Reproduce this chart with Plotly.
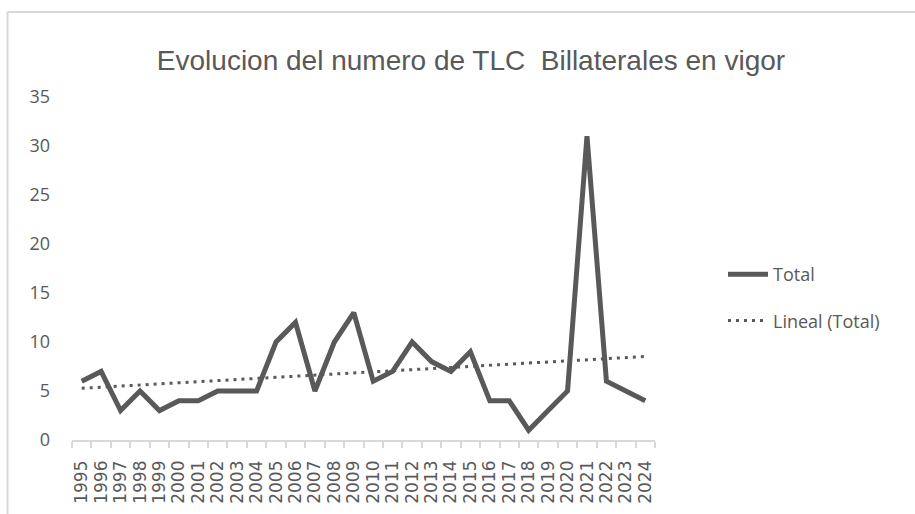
import numpy as np
import plotly.graph_objects as go

years = [str(y) for y in range(1995, 2025)]
totals = [6, 7, 3, 5, 3, 4, 4, 5, 5, 5,
          10, 12, 5, 10, 13, 6, 7, 10, 8, 7,
          9, 4, 4, 1, 3, 5, 31, 6, 5, 4]
y_ticks = [0, 5, 10, 15, 20, 25, 30, 35]

title_text = "Evolucion del numero de TLC  Billaterales en vigor"

# linear trend (Excel "Lineal" trendline)
idx = np.arange(1, len(totals) + 1)
slope, intercept = np.polyfit(idx, totals, 1)
trend = slope * idx + intercept

GREY = "#595959"
BORDER = "#d9d9d9"

W, H = 915, 514
L, R = 72, 655
T, B = 97, 440
pw, ph = R - L, B - T

def px_x(x):
    return (x - L) / pw

def px_y(y):
    return (B - y) / ph

fig = go.Figure()
fig.add_trace(go.Scatter(
    x=years, y=totals, mode="lines", name="Total",
    line=dict(color=GREY, width=5), legendgroup="a"))
fig.add_trace(go.Scatter(
    x=years, y=trend, mode="lines", name="Lineal (Total)",
    line=dict(color=GREY, width=3, dash="3px,5px"), legendgroup="b"))

fig.update_layout(
    width=W, height=H,
    margin=dict(l=L, r=W - R, t=T, b=H - B, pad=0, autoexpand=False),
    paper_bgcolor="white", plot_bgcolor="white",
    font=dict(family="Open Sans, sans-serif", color=GREY),
    title=dict(text=title_text, x=471 / W, xanchor="center",
               y=1 - 60 / H, yanchor="middle", xref="container", yref="container",
               font=dict(family="Liberation Sans Narrow, Arial Narrow, Liberation Sans, sans-serif",
                         size=28, color=GREY)),
    showlegend=True,
    legend=dict(x=px_x(723), xanchor="left", y=px_y(256), yanchor="top",
                font=dict(size=18, color=GREY), tracegroupgap=20,
                bgcolor="rgba(0,0,0,0)", itemwidth=40),
    xaxis=dict(type="category", range=[-0.5, len(years) - 0.5], automargin=False,
               tickmode="array", tickvals=years, ticktext=years,
               showline=True, linecolor=BORDER, linewidth=1.5,
               ticks="outside", tickson="boundaries", ticklen=6, tickcolor=BORDER,
               tickwidth=1.5, tickangle=-90, showgrid=False, ticklabelstandoff=12,
               tickfont=dict(family="DejaVu Sans, sans-serif", size=17, color=GREY)),
    yaxis=dict(range=[0, 35], tickvals=y_ticks, showgrid=False, zeroline=False,
               automargin=False,
               showline=False, ticks="", ticklabelstandoff=21,
               tickfont=dict(size=18, color=GREY)),
    shapes=[
        dict(type="line", xref="paper", yref="paper",
             x0=px_x(7.5), x1=px_x(7.5), y0=px_y(12), y1=px_y(H),
             line=dict(color=BORDER, width=2)),
        dict(type="line", xref="paper", yref="paper",
             x0=px_x(7.5), x1=px_x(W), y0=px_y(12), y1=px_y(12),
             line=dict(color=BORDER, width=2)),
    ],
)

fig.write_html("out.html", config={"displayModeBar": False},
               post_script="document.body.style.margin='0';document.body.style.overflow='hidden';")
